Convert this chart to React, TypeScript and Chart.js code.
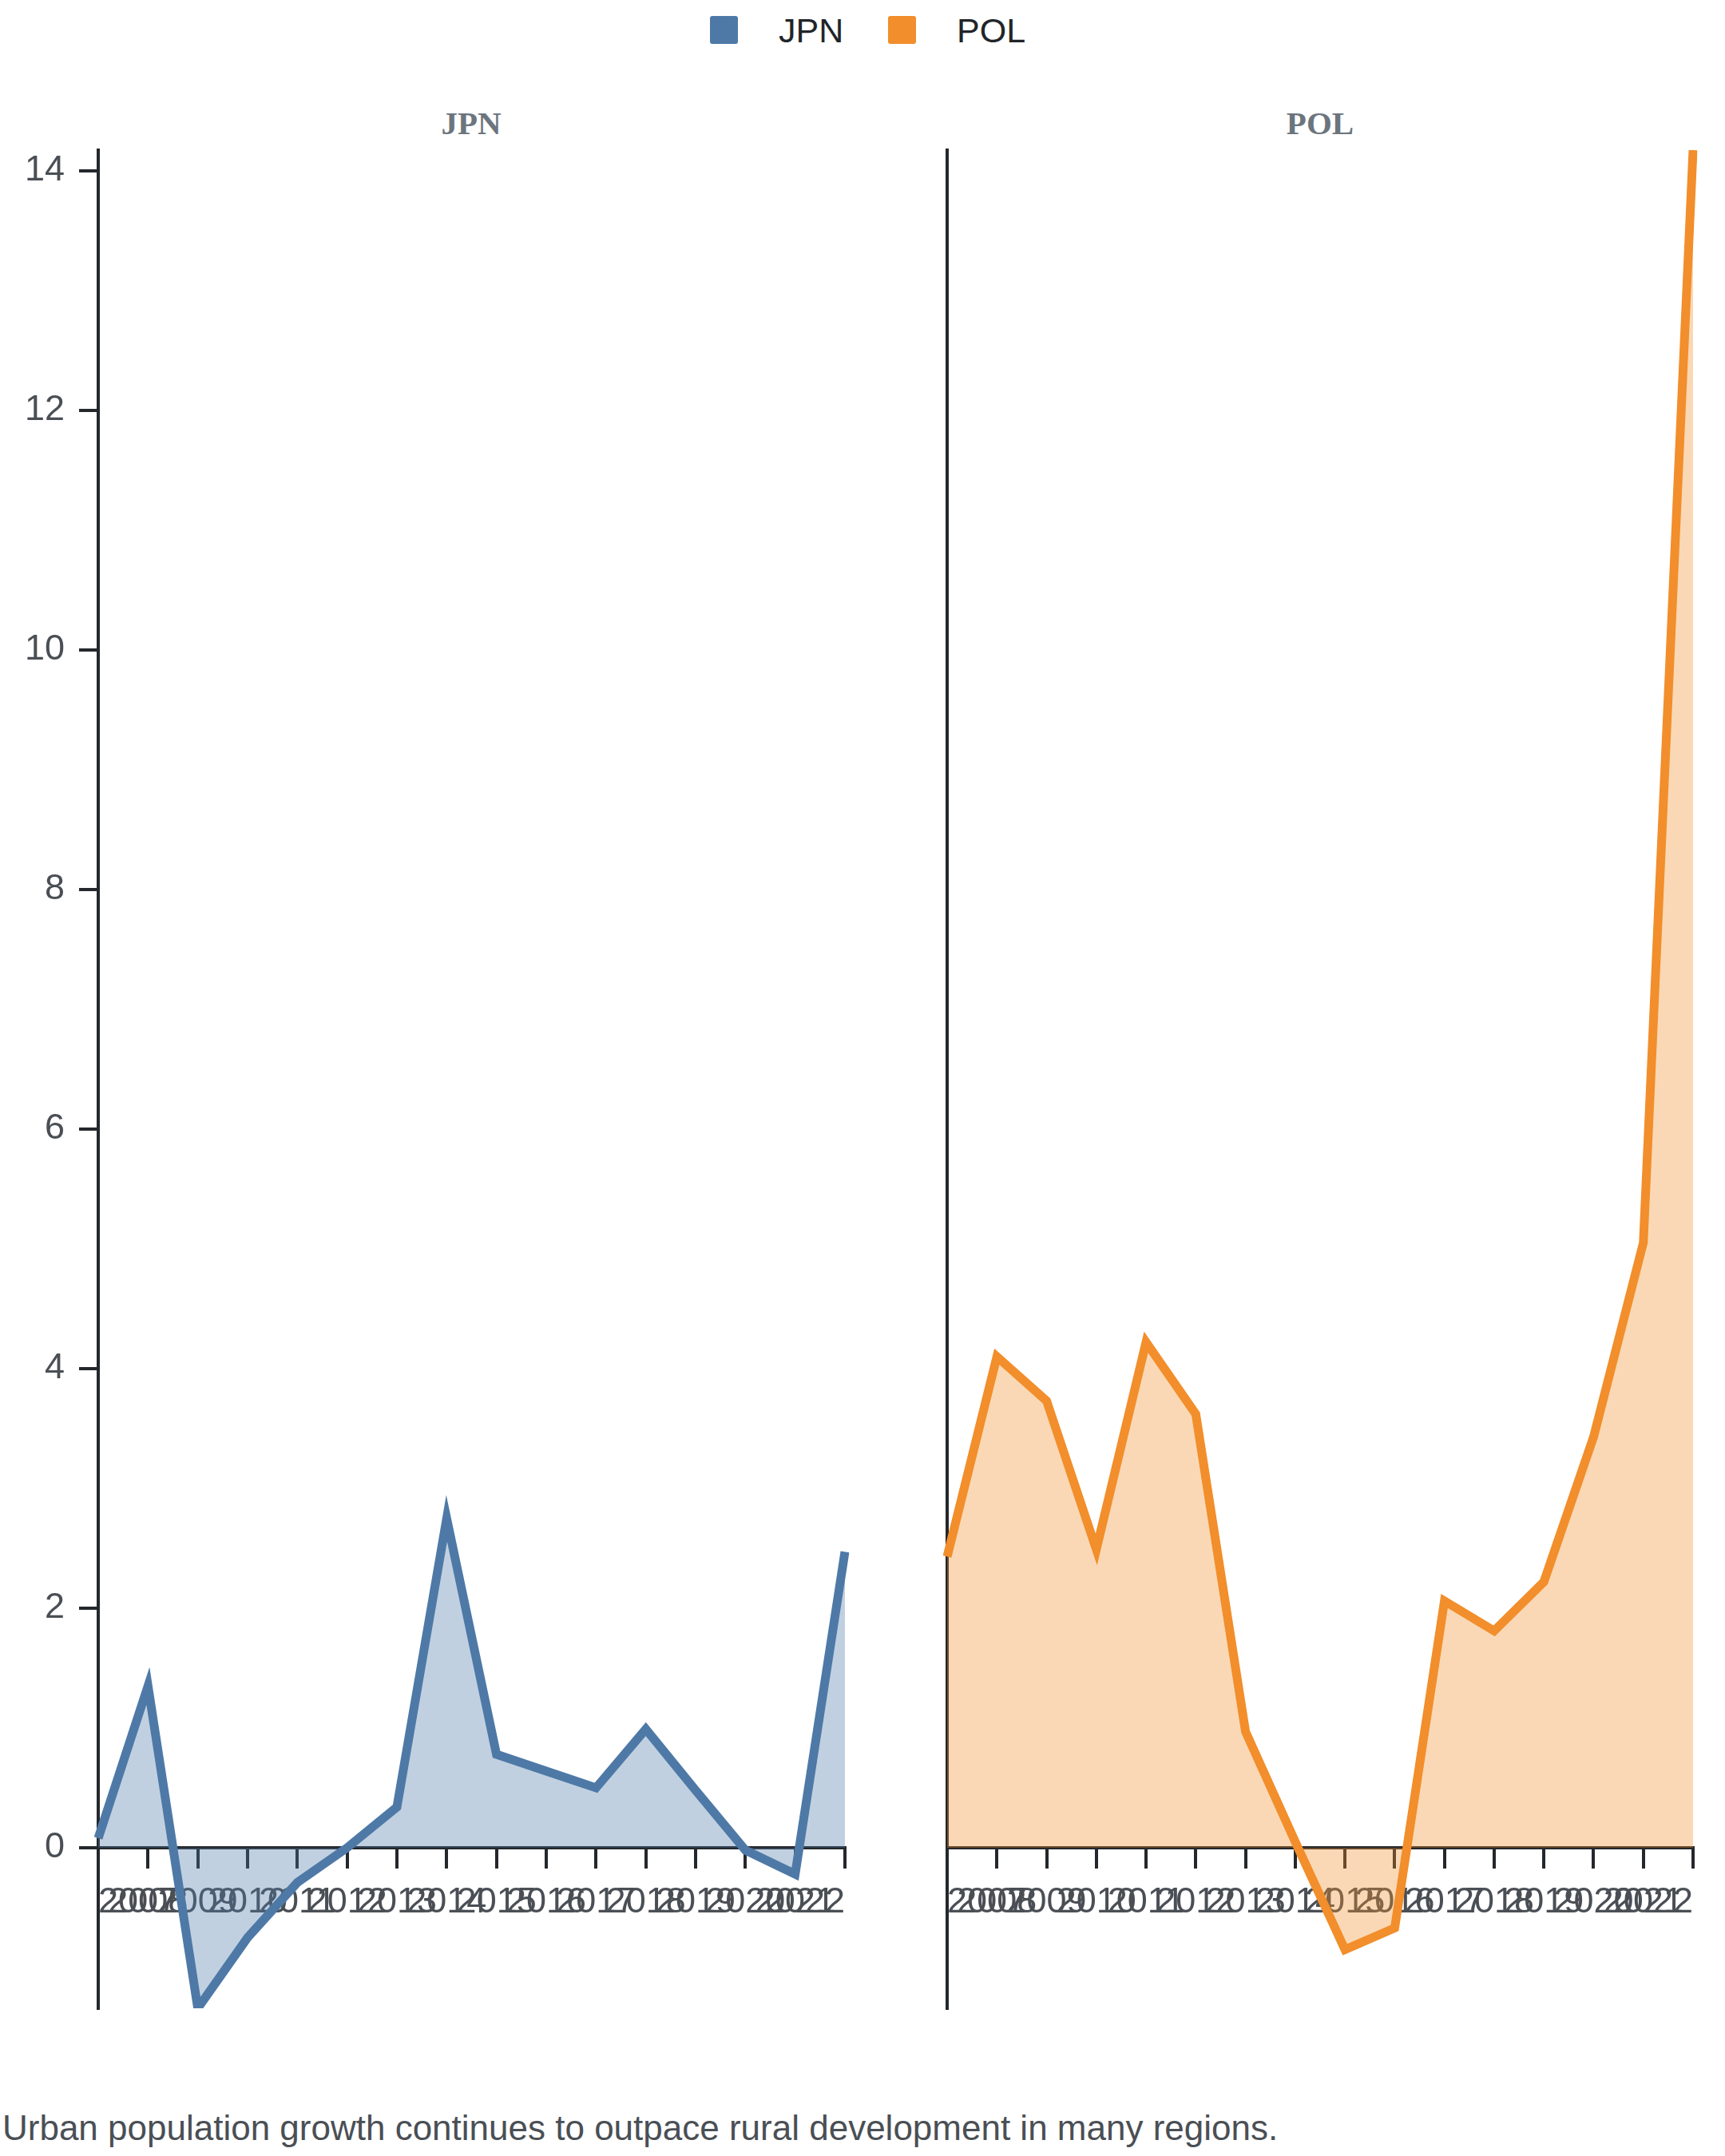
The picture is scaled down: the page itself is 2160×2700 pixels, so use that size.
import React, { useEffect, useRef } from 'react';
import Chart from 'chart.js/auto';

// ---- data ----
const years = ['2007', '2008', '2009', '2010', '2011', '2012', '2013', '2014', '2015', '2016', '2017', '2018', '2019', '2020', '2021', '2022'];
const jpnValues = [0.08, 1.35, -1.34, -0.75, -0.29, 0.0, 0.34, 2.75, 0.78, 0.64, 0.5, 0.99, 0.48, -0.02, -0.22, 2.47];
const polValues = [2.43, 4.1, 3.73, 2.49, 4.22, 3.62, 0.97, 0.05, -0.85, -0.67, 2.06, 1.81, 2.22, 3.43, 5.05, 14.17];
const yTickValues = [0, 2, 4, 6, 8, 10, 12, 14];
const seriesNames = ['JPN', 'POL'];
const caption = 'Urban population growth continues to outpace rural development in many regions.';

// ---- style ----
const SANS = '"Liberation Sans", Arial, Helvetica, sans-serif';
const SERIF = '"Liberation Serif", "Times New Roman", serif';
const lineColors = ['#4e79a7', '#f28e2b'];
const fillColors = ['rgba(78,121,167,0.35)', 'rgba(242,142,43,0.35)'];
const axisColor = '#24272b';
const labelColor = '#4a4f55';

const allValues = [...jpnValues, ...polValues];
const yMin = Math.min(...allValues);
const yMax = Math.max(...allValues);

type PanelProps = {
  values: number[];
  index: number;
  showY: boolean;
  left: number;
  top: number;
  width: number;
  height: number;
  padLeft: number;
  yAxisWidth: number;
};

function Panel(props: PanelProps) {
  const ref = useRef<HTMLCanvasElement | null>(null);
  useEffect(() => {
    if (!ref.current) return;
    const { values, index, showY, padLeft, yAxisWidth } = props;
    const chart = new Chart(ref.current, {
      type: 'line',
      data: {
        labels: years,
        datasets: [
          {
            label: seriesNames[index],
            data: values,
            borderColor: lineColors[index],
            backgroundColor: fillColors[index],
            borderWidth: 11,
            fill: 'origin',
            pointRadius: 0,
            pointHoverRadius: 0,
            tension: 0,
            borderJoinStyle: 'miter',
            borderCapStyle: 'butt',
          },
        ],
      },
      options: {
        animation: false,
        responsive: false,
        maintainAspectRatio: false,
        devicePixelRatio: 1,
        events: [],
        layout: { padding: { top: 60, bottom: 60, left: padLeft, right: 20 } },
        plugins: {
          legend: { display: false },
          tooltip: { enabled: false },
          title: { display: false },
        },
        scales: {
          x: {
            type: 'category',
            offset: false,
            position: { y: 0 },
            afterFit: (s: any) => {
              s.height = 0;
            },
            grid: {
              display: true,
              drawOnChartArea: false,
              drawTicks: true,
              tickLength: 24,
              color: axisColor,
              lineWidth: 4,
              offset: false,
            },
            border: { display: true, color: axisColor, width: 4 },
            ticks: {
              autoSkip: false,
              maxRotation: 0,
              minRotation: 0,
              align: 'inner',
              padding: 18,
              color: labelColor,
              font: { family: SANS, size: 45 },
            },
          },
          y: {
            type: 'linear',
            min: yMin,
            max: yMax,
            afterFit: (s: any) => {
              s.width = yAxisWidth;
            },
            afterBuildTicks: (s: any) => {
              s.ticks = yTickValues.map((v) => ({ value: v }));
            },
            grid: {
              display: showY,
              drawOnChartArea: false,
              drawTicks: true,
              tickLength: 24,
              color: axisColor,
              lineWidth: 4,
            },
            border: { display: true, color: axisColor, width: 4 },
            ticks: {
              display: showY,
              padding: 18,
              color: labelColor,
              font: { family: SANS, size: 45 },
            },
          },
        },
      } as any,
    });
    return () => chart.destroy();
  }, []);
  return (
    <canvas
      ref={ref}
      width={props.width}
      height={props.height}
      style={{
        position: 'absolute',
        left: props.left,
        top: props.top,
        width: props.width,
        height: props.height,
      }}
    />
  );
}

const panelTop = 128; // chart area top = 188 (padding 60)
const panelHeight = 2327 + 120;

export default function App() {
  return (
    <div
      style={{
        position: 'absolute',
        left: 0,
        top: 0,
        width: 2160,
        height: 2700,
        background: '#ffffff',
        overflow: 'hidden',
      }}
    >
      {/* legend */}
      {seriesNames.map((name, i) => (
        <React.Fragment key={name}>
          <div
            style={{
              position: 'absolute',
              left: i === 0 ? 889 : 1112,
              top: 20,
              width: 35,
              height: 35,
              borderRadius: 3,
              background: lineColors[i],
            }}
          />
          <div
            style={{
              position: 'absolute',
              left: i === 0 ? 975 : 1198,
              top: 17,
              font: `43px ${SANS}`,
              lineHeight: '43px',
              color: '#212529',
              whiteSpace: 'nowrap',
            }}
          >
            {name}
          </div>
        </React.Fragment>
      ))}

      {/* facet headers */}
      {seriesNames.map((name, i) => (
        <div
          key={'h' + name}
          style={{
            position: 'absolute',
            left: (i === 0 ? 590 : 1653) - 200,
            width: 400,
            top: 134,
            textAlign: 'center',
            font: `bold 41px ${SERIF}`,
            lineHeight: '41px',
            color: '#6c757d',
          }}
        >
          {name}
        </div>
      ))}

      <Panel
        values={jpnValues}
        index={0}
        showY={true}
        left={0}
        top={panelTop}
        width={1078}
        height={panelHeight}
        padLeft={0}
        yAxisWidth={123}
      />
      <Panel
        values={polValues}
        index={1}
        showY={false}
        left={1166}
        top={panelTop}
        width={974}
        height={panelHeight}
        padLeft={20}
        yAxisWidth={0}
      />

      <div
        style={{
          position: 'absolute',
          left: 3,
          top: 2643,
          font: `44px ${SANS}`,
          lineHeight: '44px',
          color: '#4a4f55',
          whiteSpace: 'nowrap',
        }}
      >
        {caption}
      </div>
    </div>
  );
}
